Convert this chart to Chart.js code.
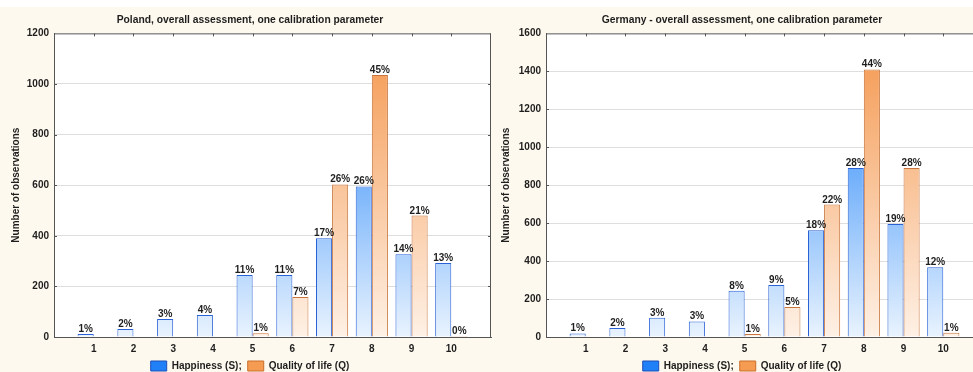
<!DOCTYPE html>
<html><head><meta charset="utf-8">
<script src="https://cdn.jsdelivr.net/npm/chart.js@4/dist/chart.umd.min.js"></script>
<style>
html,body{margin:0;padding:0;width:973px;height:372px;overflow:hidden;background:#fff;}
#bg{position:absolute;left:0;top:7px;width:973px;height:365px;background:#fef9ee;}
.c{position:absolute;top:0;width:500px;height:372px;}
#w1{left:0} #w2{left:492px}
canvas{display:block}
</style></head><body>
<div id="bg"></div>
<div class="c" id="w1"><canvas id="c1" width="500" height="372"></canvas></div>
<div class="c" id="w2"><canvas id="c2" width="500" height="372"></canvas></div>
<script>
const categories = ['1','2','3','4','5','6','7','8','9','10'];

const plHappiness = [12, 32, 71, 87, 245, 245, 390, 595, 327, 292];
const plQuality   = [null, null, null, null, 15, 158, 603, 1035, 480, 4];
const plHappinessPct = ['1%','2%','3%','4%','11%','11%','17%','26%','14%','13%'];
const plQualityPct   = [null,null,null,null,'1%','7%','26%','45%','21%','0%'];
const plTicks = [0, 200, 400, 600, 800, 1000, 1200];

const deHappiness = [19, 47, 102, 82, 244, 274, 563, 891, 596, 368];
const deQuality   = [null, null, null, null, 16, 158, 698, 1410, 891, 23];
const deHappinessPct = ['1%','2%','3%','3%','8%','9%','18%','28%','19%','12%'];
const deQualityPct   = [null,null,null,null,'1%','5%','22%','44%','28%','1%'];
const deTicks = [0, 200, 400, 600, 800, 1000, 1200, 1400, 1600];

const FONT = '"Liberation Sans", Arial, sans-serif';
const TXT = '#1e1e1e';
const FRAME = '#555555';

function grad(top, bottom) {
  return (ctx) => {
    const ch = ctx.chart, a = ch.chartArea;
    if (!a) return top;
    const g = ch.ctx.createLinearGradient(0, a.top, 0, a.bottom);
    g.addColorStop(0, top);
    g.addColorStop(1, bottom);
    return g;
  };
}

const framePlugin = {
  id: 'frame',
  beforeDraw(chart) {
    const {ctx, chartArea: a} = chart;
    ctx.save();
    ctx.fillStyle = '#ffffff';
    ctx.fillRect(a.left, a.top, a.right - a.left, a.bottom - a.top);
    ctx.restore();
  },
  afterDatasetsDraw(chart) {
    const {ctx, chartArea: a, scales: {x, y}} = chart;
    ctx.save();
    ctx.strokeStyle = FRAME;
    ctx.lineWidth = 1;
    ctx.beginPath();
    ctx.moveTo(a.left, a.top + 0.5); ctx.lineTo(a.right, a.top + 0.5);
    ctx.moveTo(a.right - 0.5, a.top); ctx.lineTo(a.right - 0.5, a.bottom);
    categories.forEach((c, i) => {
      const px = Math.round(x.getPixelForValue(i + 1)) + 0.5;
      ctx.moveTo(px, a.top); ctx.lineTo(px, a.top + 3);
    });
    y.ticks.forEach(t => {
      if (t.value === y.min || t.value === y.max) return;
      const py = Math.round(y.getPixelForValue(t.value)) + 0.5;
      ctx.moveTo(a.left, py); ctx.lineTo(a.left + 3, py);
      ctx.moveTo(a.right - 3, py); ctx.lineTo(a.right, py);
    });
    ctx.stroke();
    // percentage labels
    ctx.fillStyle = TXT;
    ctx.font = 'bold 10px ' + FONT;
    ctx.textAlign = 'center';
    ctx.textBaseline = 'alphabetic';
    chart.data.datasets.forEach((ds, di) => {
      const meta = chart.getDatasetMeta(di);
      meta.data.forEach((el, i) => {
        const p = ds.pct[i];
        if (p == null || ds.data[i] == null) return;
        ctx.fillText(p, el.x, el.y - 2);
      });
    });
    ctx.restore();
  }
};

function makeChart(id, title, hap, qual, hapPct, qualPct, yTicks, yTitlePad) {
  const labels = ['', ...categories, ''];
  const pad = a => [null, ...a, null];
  const yMax = yTicks[yTicks.length - 1];
  return new Chart(document.getElementById(id), {
    type: 'bar',
    data: {
      labels,
      datasets: [
        { label: 'Happiness (S);', data: pad(hap), pct: pad(hapPct),
          backgroundColor: grad('#0a76f8', '#e9f3fe'), borderColor: '#2a62d6', borderWidth: 1,
          legendFill: '#1f80f7', legendStroke: '#1d4fb8' },
        { label: 'Quality of life (Q)', data: pad(qual), pct: pad(qualPct),
          backgroundColor: grad('#f4964c', '#fef1e6'), borderColor: '#c8743a', borderWidth: 1,
          legendFill: '#f59b52', legendStroke: '#c86f2b' }
      ]
    },
    options: {
      responsive: false,
      animation: false,
      devicePixelRatio: 1,
      categoryPercentage: 0.81,
      barPercentage: 1.0,
      layout: { padding: { left: 9, right: 9, top: 0, bottom: 0 } },
      plugins: {
        title: { display: true, text: title, color: TXT,
                 font: { family: FONT, size: 10.3, weight: 'bold' },
                 padding: { top: 14, bottom: 7 } },
        legend: {
          position: 'bottom',
          maxHeight: 17,
          labels: {
            color: TXT, font: { family: FONT, size: 10, weight: 'bold' },
            boxWidth: 16, boxHeight: 10, padding: 6,
            generateLabels(chart) {
              return chart.data.datasets.map((ds, i) => ({
                text: ds.label, fillStyle: ds.legendFill, strokeStyle: ds.legendStroke,
                lineWidth: 1, fontColor: TXT, hidden: false, datasetIndex: i
              }));
            }
          }
        },
        tooltip: { enabled: false }
      },
      scales: {
        x: {
          type: 'category',
          offset: false,
          grid: { display: false, drawTicks: false },
          border: { display: true, color: FRAME, width: 1 },
          ticks: { color: TXT, font: { family: FONT, size: 10, weight: 'bold' },
                   padding: 6, autoSkip: false, maxRotation: 0 },
          afterFit(s) { s.height = 18; }
        },
        y: {
          min: 0, max: yMax,
          afterBuildTicks(s) { s.ticks = yTicks.map(v => ({ value: v })); },
          grid: { drawTicks: false,
                  color: c => (c.tick && (c.tick.value === 0 || c.tick.value === yMax)) ? 'rgba(0,0,0,0)' : '#dedede' },
          border: { display: true, color: FRAME, width: 1 },
          ticks: { color: TXT, font: { family: FONT, size: 10, weight: 'bold' }, padding: 5,
                   callback: v => String(v) },
          title: { display: true, text: 'Number of observations', color: TXT,
                   font: { family: FONT, size: 10, weight: 'bold' },
                   padding: { top: yTitlePad, bottom: 0 } },
          afterFit(s) { s.width = 45; }
        }
      }
    },
    plugins: [framePlugin]
  });
}

makeChart('c1', 'Poland, overall assessment, one calibration parameter',
  plHappiness, plQuality, plHappinessPct, plQualityPct, plTicks, 1);
makeChart('c2', 'Germany - overall assessment, one calibration parameter',
  deHappiness, deQuality, deHappinessPct, deQualityPct, deTicks, -1);
</script>
</body></html>
